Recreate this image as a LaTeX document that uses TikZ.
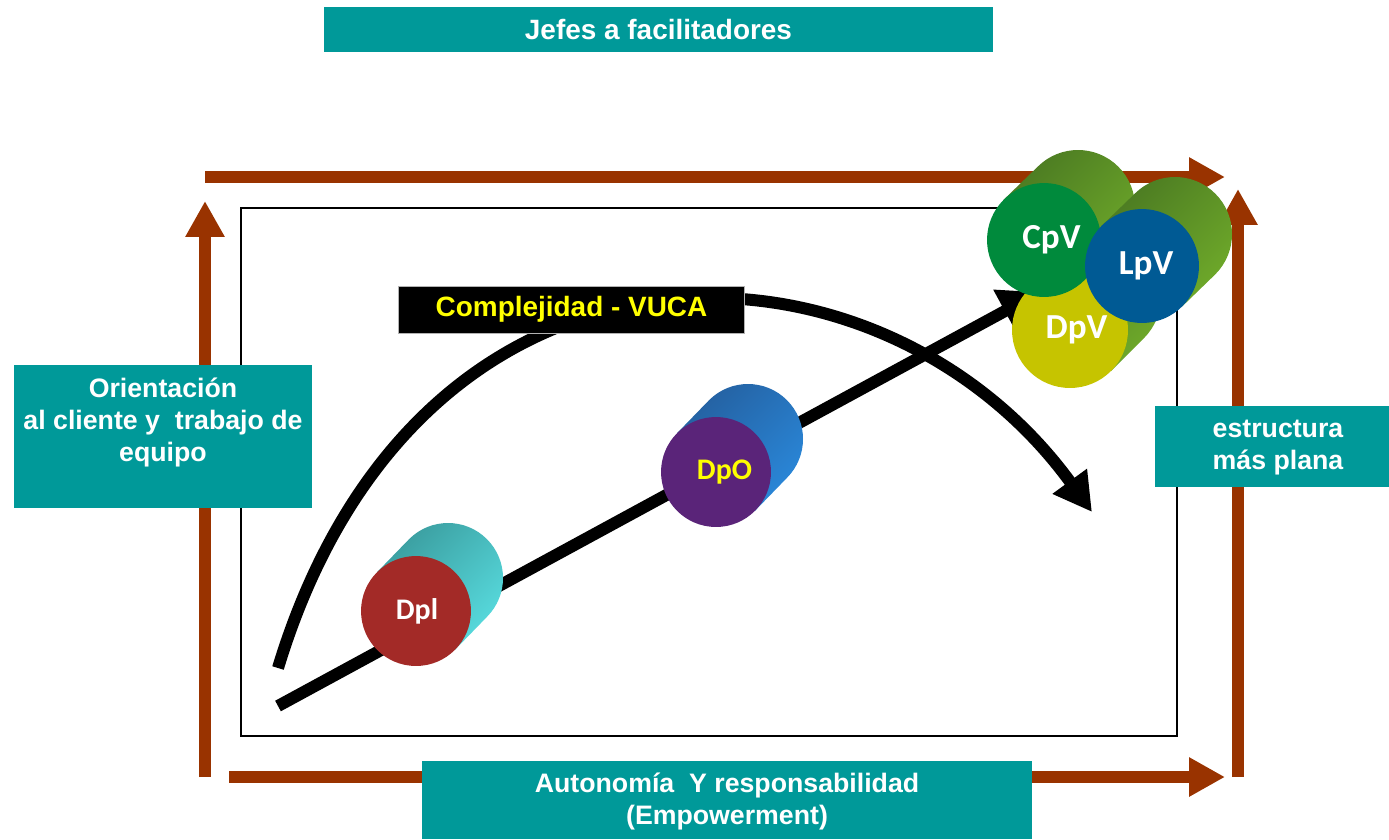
\documentclass[tikz,border=0pt]{standalone}
\usepackage{fontspec}
\setmainfont{Liberation Sans}
\newfontfamily\cylfont{Carlito}
\usetikzlibrary{arrows.meta}
\definecolor{brownc}{HTML}{993300}
\definecolor{tealc}{HTML}{009999}
\definecolor{dplface}{HTML}{A32A27}
\definecolor{dpllight}{HTML}{58DCDF}
\definecolor{dpldark}{HTML}{3A9C9E}
\definecolor{dpoface}{HTML}{5A2479}
\definecolor{dpolight}{HTML}{2A88DA}
\definecolor{dpodark}{HTML}{2460A0}
\definecolor{grnlight}{HTML}{6FAA2A}
\definecolor{grndark}{HTML}{4B7A22}
\definecolor{cpvface}{HTML}{008A3C}
\definecolor{lpvface}{HTML}{005A94}
\definecolor{dpvface}{HTML}{C6C400}
\definecolor{vucay}{HTML}{FFFF00}
% #1 name, #2 cx, #3 cy (pixels, down), #4 r, #5 dx, #6 dy (up), #7 face style, #8 body colour prefix, #9 label
\newcommand\mycyl[9]{%
  \begin{scope}[shift={(#2,-#3)}]
    \pgfmathsetmacro\kk{0.7071*#4}
    \shade[top color=#8dark, middle color=#8light, bottom color=#8light, shading angle=45]
      (-\kk,\kk) -- ({#5-\kk},{#6+\kk}) arc[start angle=135, end angle=-45, radius=#4]
      -- (\kk,-\kk) -- cycle;
  \end{scope}
  \pgfmathsetmacro\dd{0.04*#4}
  \node[cylface, minimum size=\dd cm, #7] (#1) at (#2,-#3) {#9};
}
\newcommand\lbl[3]{\raisebox{-#2cm}{\hspace*{#1cm}#3}}
\begin{document}
\begin{tikzpicture}[x=0.02cm,y=0.02cm,
  btxt/.style={text=white, font=\bfseries\fontsize{15.2}{18.2}\selectfont, align=center, inner sep=0pt},
  tealbox/.style={btxt, fill=tealc},
  brownarrow/.style={draw=brownc, line width=0.24cm, -{Triangle[length=0.72cm, width=0.74cm]}},
  blackarrow/.style={draw=black, line width=0.24cm},
  cylface/.style={circle, inner sep=0pt, font=\cylfont\bfseries\fontsize{17}{17}\selectfont},
  cylbig/.style={font=\cylfont\bfseries\fontsize{20}{20}\selectfont}
]
\useasboundingbox (0,0) rectangle (1389,-839);

% frame
\draw[line width=0.04cm] (241,-208) rectangle (1177,-736);

% brown arrows
\coordinate (tA) at (205,-177);  \coordinate (tB) at (1225,-177);
\coordinate (lA) at (205,-777);  \coordinate (lB) at (205,-201);
\coordinate (bA) at (229,-777);  \coordinate (bB) at (1225,-777);
\coordinate (rA) at (1238,-777); \coordinate (rB) at (1238,-189);
\draw[brownarrow] (tA) -- (tB);
\draw[brownarrow] (lA) -- (lB);
\draw[brownarrow] (bA) -- (bB);
\draw[brownarrow] (rA) -- (rB);

% black arrows
\coordinate (cS) at (278,-668); \coordinate (cE) at (1092,-512);
\draw[blackarrow, -{Triangle[length=0.76cm, width=0.8cm]}]
  (cS) .. controls (420,-200) and (880,-220) .. (cE);
\coordinate (sS) at (278,-706); \coordinate (sE) at (1040,-292);
\draw[blackarrow, -{Triangle[length=0.8cm, width=0.92cm]}] (sS) -- (sE);

% label
\node[fill=black, draw=black!30, line width=0.02cm, minimum width=6.94cm, minimum height=0.94cm,
  inner sep=0pt, font=\bfseries\fontsize{15.9}{18.2}\selectfont, text=vucay] (vuca) at (571.5,-309.5)
  {Complejidad - VUCA};

% cylinders
\mycyl{dpl}{416}{611}{55}{32}{33}{fill=dplface, text=white}{dpl}{\lbl{0.04}{0.07}{Dpl}}
\mycyl{dpo}{716}{472}{55}{32}{33}{fill=dpoface, text=vucay}{dpo}{\lbl{0.34}{0.1}{DpO}}
\mycyl{dpv}{1070}{330}{58}{33}{33}{fill=dpvface, text=white, cylbig}{grn}{\lbl{0.26}{0.06}{DpV}}
\mycyl{cpv}{1044}{240}{57}{34}{33}{fill=cpvface, text=white, cylbig}{grn}{\lbl{0.3}{0.1}{CpV}}
\mycyl{lpv}{1142}{266}{57}{33}{32}{fill=lpvface, text=white, cylbig}{grn}{\lbl{0.16}{0.1}{LpV}}

% teal boxes
\node[tealbox, font=\bfseries\fontsize{15.9}{18.2}\selectfont, minimum width=13.38cm, minimum height=0.9cm] (jefes) at (658.5,-29.5) {Jefes a facilitadores};
\fill[tealc] (14,-365) rectangle (312,-508);
\node[btxt] (orient) at (163,-422) {Orientación\\al cliente y\ \ trabajo de\\equipo};
\node[tealbox, minimum width=4.68cm, minimum height=1.62cm, text depth=0.06cm] (estr) at (1272,-446.5) {\hspace*{0.24cm}estructura\\\hspace*{0.24cm}más plana};
\node[tealbox, minimum width=12.2cm, minimum height=1.56cm, text depth=0.06cm] (auto) at (727,-800) {Autonomía\ \ Y responsabilidad\\(Empowerment)};
\end{tikzpicture}
\end{document}
